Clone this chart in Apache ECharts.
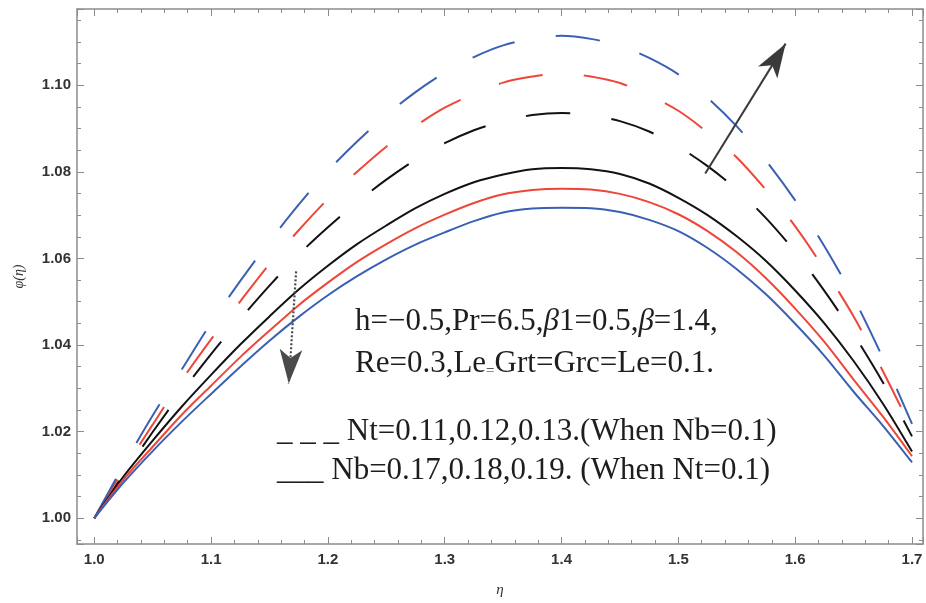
<!DOCTYPE html>
<html>
<head>
<meta charset="utf-8">
<script src="https://cdn.jsdelivr.net/npm/echarts@6/dist/echarts.min.js"></script>
<style>
  html, body { margin: 0; padding: 0; background: #ffffff; }
  #chart { width: 926px; height: 603px; }
</style>
</head>
<body>
<div id="chart"></div>
<script>
// Similarity variable η (shared abscissa of all six profiles)
const eta = [1.0, 1.025, 1.05, 1.075, 1.1, 1.125, 1.15, 1.175, 1.2, 1.225, 1.25, 1.275, 1.3, 1.325, 1.35,
             1.375, 1.4, 1.425, 1.45, 1.475, 1.5, 1.525, 1.55, 1.575, 1.6, 1.625, 1.65, 1.675, 1.7];

// φ(η) for Nt = 0.11, 0.12, 0.13 (Nb = 0.1), dashed
const phiNt011 = [1.0, 1.0101, 1.0199, 1.0292, 1.0379, 1.0460, 1.0537, 1.0609, 1.0672, 1.0730, 1.0782, 1.0828, 1.0866, 1.0896, 1.0917,
                  1.0931, 1.0936, 1.0931, 1.0917, 1.0893, 1.0858, 1.0813, 1.0759, 1.0693, 1.0615, 1.0525, 1.0425, 1.0314, 1.0189];
const phiNt012 = [1.0, 1.0112, 1.0216, 1.0319, 1.0413, 1.0501, 1.0587, 1.0665, 1.0737, 1.0800, 1.0858, 1.0906, 1.0948, 1.0980, 1.1006,
                  1.1020, 1.1028, 1.1020, 1.1005, 1.0977, 1.0941, 1.0891, 1.0833, 1.0758, 1.0674, 1.0575, 1.0466, 1.0340, 1.0204];
const phiNt013 = [1.0, 1.0122, 1.0237, 1.0344, 1.0451, 1.0548, 1.0639, 1.0724, 1.0802, 1.0870, 1.0931, 1.0984, 1.1029, 1.1065, 1.1092,
                  1.1107, 1.1114, 1.1107, 1.1091, 1.1063, 1.1025, 1.0971, 1.0905, 1.0826, 1.0734, 1.0628, 1.0509, 1.0370, 1.0218];

// φ(η) for Nb = 0.17, 0.18, 0.19 (Nt = 0.1), solid
const phiNb017 = [1.0, 1.0096, 1.0179, 1.0258, 1.0331, 1.0401, 1.0466, 1.0528, 1.0583, 1.0633, 1.0676, 1.0716, 1.0749, 1.0776, 1.0794,
                  1.0806, 1.0809, 1.0806, 1.0795, 1.0773, 1.0740, 1.0700, 1.0651, 1.0594, 1.0526, 1.0450, 1.0363, 1.0265, 1.0154];
const phiNb018 = [1.0, 1.0089, 1.0165, 1.0239, 1.0306, 1.0372, 1.0433, 1.0492, 1.0544, 1.0592, 1.0633, 1.0670, 1.0701, 1.0728, 1.0748,
                  1.0758, 1.0761, 1.0759, 1.0749, 1.0730, 1.0702, 1.0663, 1.0614, 1.0554, 1.0484, 1.0407, 1.0320, 1.0235, 1.0143];
const phiNb019 = [1.0, 1.0082, 1.0155, 1.0223, 1.0287, 1.0350, 1.0410, 1.0465, 1.0515, 1.0559, 1.0598, 1.0632, 1.0660, 1.0686, 1.0706,
                  1.0715, 1.0717, 1.0716, 1.0707, 1.0689, 1.0663, 1.0624, 1.0575, 1.0517, 1.0449, 1.0375, 1.0292, 1.0214, 1.0129];

// Axis ranges and tick spacing
const X_RANGE = [0.98523, 1.7094];
const Y_RANGE = [0.99404, 1.1176];
const X_STEP = 0.1;
const Y_STEP = 0.02;

// Trend arrows (η, φ) – tail then tip
const arrowNt = [[1.523, 1.0796], [1.5918, 1.1096]];
const arrowNb = [[1.1728, 1.0570], [1.1665, 1.0311]];

const BLACK = '#121212', RED = '#ee4638', BLUE = '#3a60b4';
const FRAME = '#8c8c8c';
const DASH = [45, 41.3];

function pairs(ys) { return eta.map((x, i) => [x, ys[i]]); }

function fmtStep(step, digits) {
  return function (v) {
    const r = Math.round(v / step) * step;
    return Math.abs(v - r) < 1e-7 ? r.toFixed(digits) : '';
  };
}

const labelStyle = { color: '#333', fontSize: 15, fontWeight: 'bold', fontFamily: 'Liberation Sans, Arial, sans-serif' };

function xAxis(pos, showLabels) {
  return {
    type: 'value', position: pos, min: X_RANGE[0], max: X_RANGE[1],
    splitNumber: 7, minInterval: X_STEP, maxInterval: X_STEP,
    axisLine: { show: true, onZero: false, lineStyle: { color: FRAME, width: 1.5 } },
    axisTick: { show: true, inside: true, length: 7, lineStyle: { color: FRAME, width: 1 } },
    minorTick: { show: true, splitNumber: 5, length: 4, lineStyle: { color: FRAME, width: 1 } },
    splitLine: { show: false }, minorSplitLine: { show: false },
    axisLabel: Object.assign({ show: showLabels, margin: 8, formatter: fmtStep(X_STEP, 1) }, labelStyle),
    name: showLabels ? 'η' : '', nameLocation: 'middle', nameGap: 39,
    nameTextStyle: { color: '#333', fontSize: 15, fontStyle: 'italic', fontFamily: 'Liberation Serif, serif' }
  };
}

function yAxis(pos, showLabels) {
  return {
    type: 'value', position: pos, min: Y_RANGE[0], max: Y_RANGE[1],
    splitNumber: 6, minInterval: Y_STEP, maxInterval: Y_STEP,
    axisLine: { show: true, onZero: false, lineStyle: { color: FRAME, width: 1.5 } },
    axisTick: { show: true, inside: true, length: 7, lineStyle: { color: FRAME, width: 1 } },
    minorTick: { show: true, splitNumber: 4, length: 4, lineStyle: { color: FRAME, width: 1 } },
    splitLine: { show: false }, minorSplitLine: { show: false },
    axisLabel: Object.assign({ show: showLabels, margin: 6, formatter: fmtStep(Y_STEP, 2) }, labelStyle),
    name: showLabels ? 'φ(η)' : '', nameLocation: 'middle', nameGap: 51,
    nameTextStyle: { color: '#333', fontSize: 14, fontStyle: 'italic', fontFamily: 'Liberation Serif, serif' }
  };
}

function curve(name, ys, color, dashed) {
  return {
    name: name, type: 'line', xAxisIndex: 0, yAxisIndex: 0,
    data: pairs(ys), smooth: 0.3, showSymbol: false, symbol: 'none', silent: true,
    lineStyle: { color: color, width: 2, type: dashed ? DASH : 'solid' }, z: dashed ? 3 : 4
  };
}

const series = [
  curve('Nt=0.11', phiNt011, BLACK, true),
  curve('Nt=0.12', phiNt012, RED, true),
  curve('Nt=0.13', phiNt013, BLUE, true),
  curve('Nb=0.17', phiNb017, BLACK, false),
  curve('Nb=0.18', phiNb018, RED, false),
  curve('Nb=0.19', phiNb019, BLUE, false),
  {
    name: 'trends', type: 'line', data: [], silent: true,
    markLine: {
      silent: true, animation: false, symbol: ['none', 'arrow'], symbolSize: [17, 34],
      label: { show: false },
      data: [
        [{ coord: arrowNt[0], lineStyle: { color: '#3a3a3a', width: 2, type: 'solid' } }, { coord: arrowNt[1] }],
        [{ coord: arrowNb[0], lineStyle: { color: '#4a4a4a', width: 2.2, type: [2, 2] } }, { coord: arrowNb[1] }]
      ],
      itemStyle: { color: '#111' }
    }
  }
];

const serif = 'Liberation Serif, "Times New Roman", serif';
const textFill = '#1e1e1e';
const noteFont = 31;
const rich = {
  i: { fontStyle: 'italic', fontSize: noteFont, fontFamily: serif, fill: textFill, color: textFill },
  s: { fontSize: 15, fontFamily: serif, fill: textFill, color: textFill, verticalAlign: 'bottom' }
};

function note(txt, x, y) {
  return {
    type: 'text', left: x, top: y, silent: true, z: 10,
    style: { text: txt, fontSize: noteFont, fontFamily: serif, fill: textFill, rich: rich }
  };
}

const option = {
  animation: false,
  backgroundColor: '#ffffff',
  grid: { left: 77, right: 1, top: 9, bottom: 55, containLabel: false },
  xAxis: [xAxis('bottom', true), xAxis('top', false)],
  yAxis: [yAxis('left', true), yAxis('right', false)],
  series: series,
  graphic: [
    note('h=−0.5,Pr=6.5,{i|β}1=0.5,{i|β}=1.4,', 355, 306),
    note('Re=0.3,Le{s|=}Grt=Grc=Le=0.1.', 355, 348),
    note('_ _ _ Nt=0.11,0.12,0.13.(When Nb=0.1)', 277, 416),
    note('___ Nb=0.17,0.18,0.19. (When Nt=0.1)', 277, 455)
  ]
};

const chart = echarts.init(document.getElementById('chart'), null, { renderer: 'canvas' });
chart.setOption(option);
</script>
</body>
</html>
